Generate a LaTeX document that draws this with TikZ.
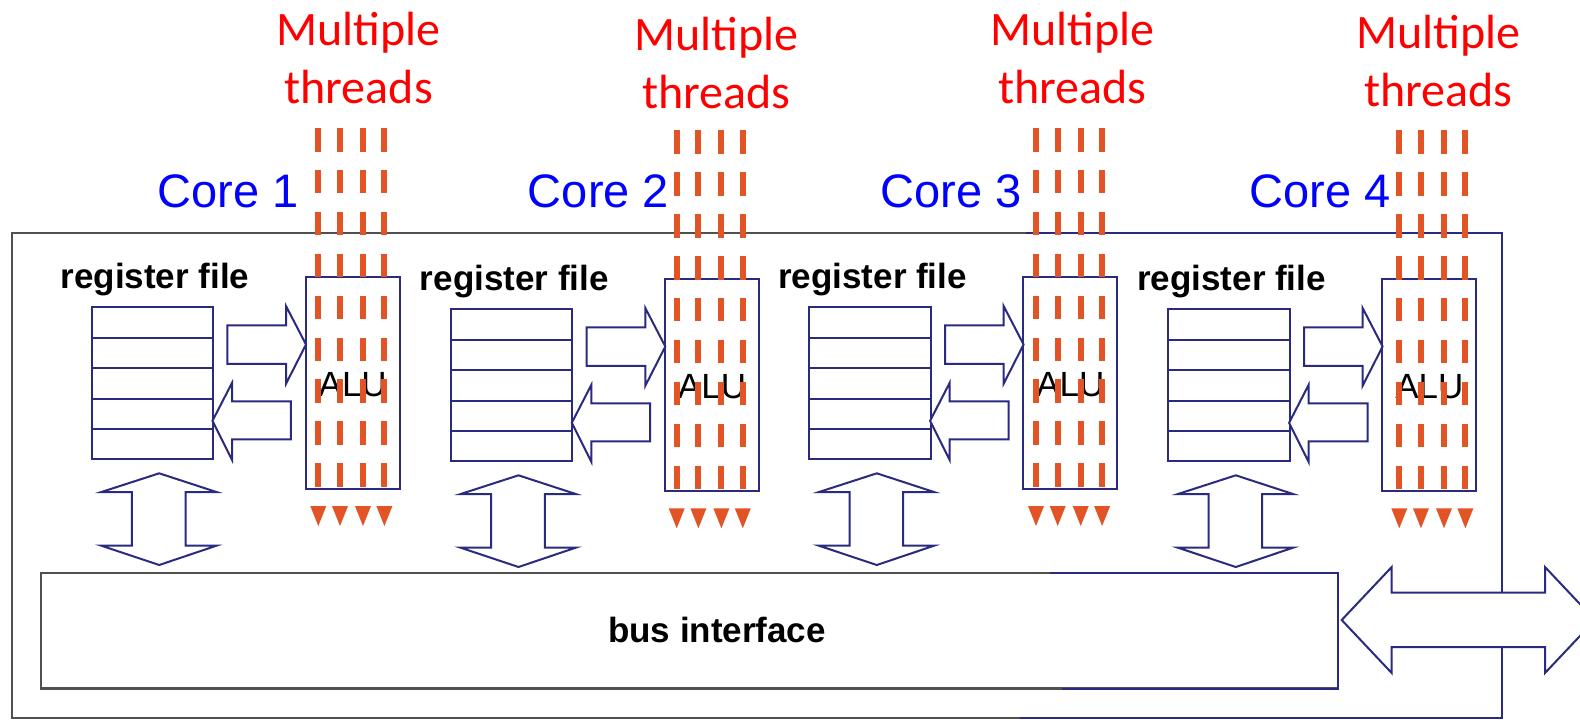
\documentclass[tikz,border=0pt]{standalone}
\usepackage{fontspec}
\setmainfont{Liberation Sans}
\newfontfamily\labelfont{Carlito}
\definecolor{navy}{RGB}{42,42,128}
\definecolor{frame}{RGB}{80,80,80}
\definecolor{thread}{RGB}{226,83,38}
\definecolor{corecol}{RGB}{0,0,255}
\definecolor{mtcol}{RGB}{255,0,0}
\tikzset{
  navyline/.style={draw=navy, line width=1pt},
  unitbox/.style={navyline, fill=white, inner sep=0pt},
  blockarrow/.style={navyline, fill=white, line join=miter},
  threadline/.style={draw=thread, line width=3pt, dash pattern=on 11.75pt off 9.2pt},
  threadtip/.style={fill=thread},
  regtext/.style={inner sep=0pt, anchor=base, font=\bfseries\fontsize{17.5}{21}\selectfont},
  alutext/.style={inner sep=0pt, anchor=base, font=\fontsize{17.5}{21}\selectfont},
  coretext/.style={inner sep=0pt, anchor=base, text=corecol, font=\fontsize{23.5}{27}\selectfont},
  mttext/.style={inner sep=0pt, anchor=base, text=mtcol, font=\labelfont\fontsize{24}{29}\selectfont},
}
\begin{document}
\begin{tikzpicture}[x=0.5pt, y=-0.5pt]
\useasboundingbox (0,0) rectangle (1580,719);
\clip (0,0) rectangle (1580,719);
\fill[white] (0,0) rectangle (1580,719);

% chip outline: grey on the left, navy on the right
\draw[frame, line width=1.2pt] (12,233) rectangle (1502,718);
\draw[navy, line width=1pt] (1026,233) -- (1502,233) -- (1502,718) -- (1020,718);

% bus interface block
\node[draw=frame, line width=1.2pt, fill=white, inner sep=0pt,
      minimum width=648.5pt, minimum height=57.9pt] (bus) at (689.2,630.6) {};
\draw[navy, line width=1pt] (1050,572.7) -- (1337.7,572.7) -- (1337.7,688.5) -- (1062,688.5);
\node[regtext] (bustext) at (717,642) {bus interface};

% external bus arrow
\coordinate (busport) at (1341.7,620);
\draw[blockarrow] (busport) -- ++(50,-53) -- ++(0,25.7) -- ++(153.3,0) -- ++(0,-25.7) -- ++(50,53)
  -- ++(-50,53) -- ++(0,-26) -- ++(-153.3,0) -- ++(0,26) -- cycle;

% the four cores
\foreach \i/\tx/\ty/\dx/\dy in {1/91.7/307.3/318.3/0, 2/451/309.3/676.7/2.3,
                                3/809.3/307.3/1036/0, 4/1168.3/309.3/1399.3/2.3} {
  % register file
  \node[regtext] (rt\i) at (\tx+63.3,\ty-19) {register file};
  \node[unitbox, minimum width=60.65pt, minimum height=76pt] (rf\i) at (\tx+60.65,\ty+76) {};
  \foreach \k in {1,2,3,4}
    \draw[navyline] (\tx,\ty+30.4*\k) -- (\tx+121.3,\ty+30.4*\k);
  % ALU
  \node[unitbox, minimum width=47pt, minimum height=106pt] (alu\i) at (\tx+261,\ty+75.5) {};
  \node[alutext] (alutext\i) at (\tx+261,\ty+89.5) {ALU};
  % register file -> ALU
  \draw[blockarrow] (\tx+135.7,\ty+18) -- (\tx+194.3,\ty+18) -- (\tx+194.3,\ty-1.3)
    -- (\tx+214.3,\ty+37.2) -- (\tx+194.3,\ty+76.5) -- (\tx+194.3,\ty+56.5)
    -- (\tx+135.7,\ty+56.5) -- cycle;
  % ALU -> register file
  \draw[blockarrow] (\tx+199.2,\ty+94) -- (\tx+140.3,\ty+94) -- (\tx+140.3,\ty+75.6)
    -- (\tx+120.8,\ty+113.5) -- (\tx+140.3,\ty+152.5) -- (\tx+140.3,\ty+132)
    -- (\tx+199.2,\ty+132) -- cycle;
  % register file <-> bus interface
  \draw[blockarrow] (\tx+67.5,\ty+166) -- (\tx+124.7,\ty+184.7) -- (\tx+93.8,\ty+184.7)
    -- (\tx+93.8,\ty+238.4) -- (\tx+124.7,\ty+238.4) -- (\tx+67.5,\ty+257.7)
    -- (\tx+9.7,\ty+238.4) -- (\tx+40.2,\ty+238.4) -- (\tx+40.2,\ty+184.7)
    -- (\tx+9.7,\ty+184.7) -- cycle;
  % threads running through the ALU
  \foreach \k/\off in {1/0, 2/21.7, 3/44.7, 4/66.1} {
    \coordinate (th\i\k s) at (\dx+\off,128+\dy);
    \coordinate (th\i\k e) at (\dx+\off,487+\dy);
    \draw[threadline] (th\i\k s) -- (th\i\k e);
    \fill[threadtip] (\dx+\off-8,506+\dy) -- (\dx+\off+8,506+\dy) -- (\dx+\off,526+\dy) -- cycle;
  }
}

% core names
\node[coretext] (core1) at (228.3,207) {Core 1};
\node[coretext] (core2) at (598.5,207) {Core 2};
\node[coretext] (core3) at (951,207) {Core 3};
\node[coretext] (core4) at (1320,207) {Core 4};

% thread labels
\foreach \i/\cx/\by in {1/358.7/45, 2/716.5/50, 3/1072.2/45, 4/1438.5/48} {
  \node[mttext] (mt\i a) at (\cx,\by) {Multiple};
  \node[mttext] (mt\i b) at (\cx,\by+58) {threads};
}
\end{tikzpicture}
\end{document}
